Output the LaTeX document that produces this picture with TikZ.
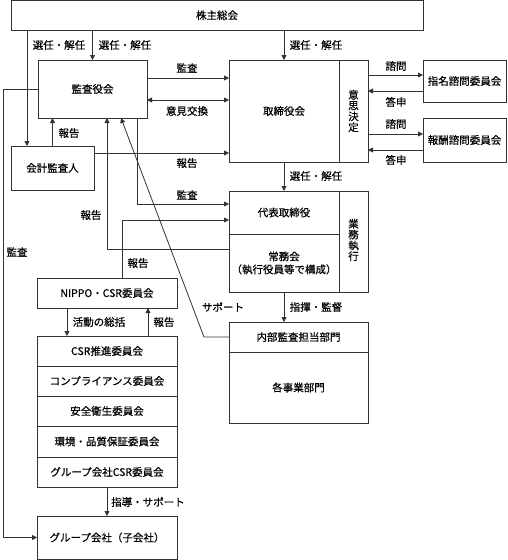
\documentclass[tikz,border=0pt]{standalone}
\usepackage{fontspec}
\setmainfont{Noto Sans CJK JP}[FakeBold=0.6]
\usetikzlibrary{arrows.meta}
\newcommand\bx[6]{\node[box,minimum width={(#4-#2)*1pt},minimum height={(#5-#3)*1pt}] (#1) at (#2,#3) {#6};}
\begin{document}
\begin{tikzpicture}[x=1pt,y=-1pt,
  every node/.append style={font=\fontsize{10.5}{13}\selectfont},
  box/.style={draw=black!80,line width=0.8pt,inner sep=0pt,outer sep=0pt,anchor=north west,align=center},
  ln/.style={draw=black!80,line width=0.8pt},
  arr/.style={ln,-{Triangle[length=5pt,width=5pt]}},
  arrb/.style={ln,{Triangle[length=5pt,width=5pt]}-{Triangle[length=5pt,width=5pt]}},
  lbl/.style={inner sep=0pt},
  vt/.style={inner sep=0pt,align=center,font=\fontsize{10.5}{10.8}\selectfont}]
\useasboundingbox (0,0) rectangle (507,560);
% boxes
\bx{top}{11}{0.5}{423}{30}{株主総会}
\bx{kansa}{38}{60}{147}{118}{監査役会}
\bx{tori}{229}{60}{339}{162}{取締役会}
\bx{ishi}{339}{60}{368}{162}{}
\node[vt] (ishit) at (353.5,111) {意\\思\\決\\定};
\bx{shimei}{423}{60}{506}{102}{指名諮問委員会}
\bx{houshu}{423}{118}{506}{162}{報酬諮問委員会}
\bx{kaikei}{11}{146}{94}{190}{会計監査人}
\bx{daihyo}{229}{191}{339}{234}{代表取締役}
\bx{jomu}{229}{234}{339}{292}{常務会\\（執行役員等で構成）}
\bx{gyomu}{339}{191}{368}{292}{}
\node[vt] (gyomut) at (353.5,240) {業\\務\\執\\行};
\bx{naibu}{229}{322}{368}{352}{内部監査担当部門}
\bx{jigyo}{229}{352}{368}{423}{各事業部門}
\bx{nippo}{37}{278}{177}{308}{NIPPO・CSR委員会}
\bx{csra}{37}{336}{177}{366}{CSR推進委員会}
\bx{csrb}{37}{366}{177}{396}{コンプライアンス委員会}
\bx{csrc}{37}{396}{177}{426}{安全衛生委員会}
\bx{csrd}{37}{426}{177}{457}{環境・品質保証委員会}
\bx{csre}{37}{457}{177}{487}{グループ会社CSR委員会}
\bx{group}{37}{516}{177}{559}{グループ会社（子会社）}
% connectors
\draw[arr] (top.south -| 27,0) -- (kaikei.north -| 27,0);
\draw[arr] (top.south -| kansa.north) -- (kansa.north);
\draw[arr] (top.south -| tori.north) -- (tori.north);
\draw[arr] (kansa.east |- 0,78) -- (tori.west |- 0,78);
\draw[arrb] (kansa.east |- 0,100) -- (tori.west |- 0,100);
\draw[arr] (kaikei.east |- 0,153) -- (tori.west |- 0,153);
\draw[arr] (kaikei.north) -- (kaikei.north |- kansa.south);
\draw[arr] (ishi.east |- 0,75) -- (shimei.west |- 0,75);
\draw[arr] (shimei.west |- 0,91) -- (ishi.east |- 0,91);
\draw[arr] (ishi.east |- 0,134) -- (houshu.west |- 0,134);
\draw[arr] (houshu.west |- 0,150) -- (ishi.east |- 0,150);
\draw[arr] (tori.south) -- (daihyo.north);
\draw[arr] (jomu.south) -- (jomu.south |- naibu.north);
\draw[arr] (kansa.south -| 137,0) |- (daihyo.west |- 0,204);
\draw[arr] (jomu.west |- 0,249) -| (kansa.south -| 107,0);
\draw[arr] (nippo.north -| 122,0) |- (daihyo.west |- 0,220);
\draw[arr] (naibu.west) -- (naibu.west -| 204,0) -- (kansa.south -| 121,0);
\draw[arr] (kansa.west) -- (kansa.west -| 3,0) |- (group.west);
\draw[arr] (nippo.south -| 67,0) -- (csra.north -| 67,0);
\draw[arr] (csra.north -| 148,0) -- (nippo.south -| 148,0);
\draw[arr] (csre.south -| 107,0) -- (group.north -| 107,0);
% labels
\node[lbl] (l1) at (59,45) {選任・解任};
\node[lbl] (l2) at (125,45) {選任・解任};
\node[lbl] (l3) at (316,45) {選任・解任};
\node[lbl] (l4) at (187,68) {監査};
\node[lbl] (l5) at (187,111) {意見交換};
\node[lbl] (l6) at (187,163) {報告};
\node[lbl] (l7) at (69,133) {報告};
\node[lbl] (l8) at (396,66) {諮問};
\node[lbl] (l9) at (396,102) {答申};
\node[lbl] (l10) at (396,124) {諮問};
\node[lbl] (l11) at (396,160) {答申};
\node[lbl] (l12) at (316,176) {選任・解任};
\node[lbl] (l13) at (187,195) {監査};
\node[lbl] (l14) at (91,215) {報告};
\node[lbl] (l15) at (17,252) {監査};
\node[lbl] (l16) at (138,263) {報告};
\node[lbl] (l17) at (223,307) {サポート};
\node[lbl] (l18) at (316,307) {指揮・監督};
\node[lbl] (l19) at (99,322) {活動の総括};
\node[lbl] (l20) at (164,322) {報告};
\node[lbl] (l21) at (148,502) {指導・サポート};
\end{tikzpicture}
\end{document}
